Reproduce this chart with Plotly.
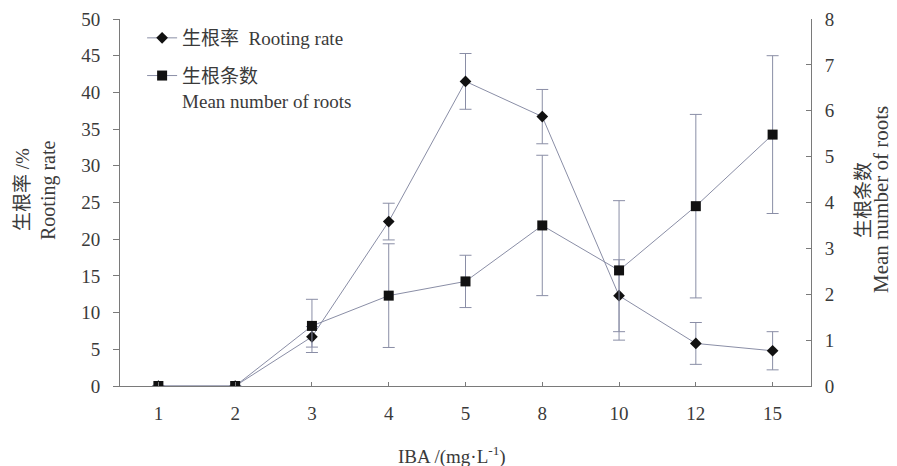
import plotly.graph_objects as go

categories = ["1", "2", "3", "4", "5", "8", "10", "12", "15"]
rooting_rate = [0, 0, 6.7, 22.4, 41.5, 36.7, 12.3, 5.8, 4.8]
rooting_rate_err = [0, 0, 1.4, 2.5, 3.8, 3.7, 4.9, 2.85, 2.6]
root_number = [0, 0, 1.31, 1.97, 2.28, 3.50, 2.52, 3.92, 5.48]
root_number_err = [0, 0, 0.58, 1.13, 0.57, 1.53, 1.52, 2.0, 1.72]

FONT = "Liberation Serif, Times New Roman, Noto Sans CJK SC, serif"
LINE = "#8a8ea6"
AX = "#7a7a7a"
TXT = "#3a3a3a"

fig = go.Figure()
fig.add_trace(go.Scatter(
    x=categories, y=rooting_rate, name="生根率  Rooting rate",
    mode="lines+markers", legendgroup="a",
    line=dict(color=LINE, width=1),
    marker=dict(symbol="diamond", size=9, color="#111"),
    error_y=dict(type="data", array=rooting_rate_err, color=LINE, thickness=1, width=6),
    yaxis="y",
))
fig.add_trace(go.Scatter(
    x=categories, y=root_number, name="生根条数<br>Mean number of roots",
    mode="lines+markers", legendgroup="b",
    line=dict(color=LINE, width=1),
    marker=dict(symbol="square", size=10, color="#111"),
    error_y=dict(type="data", array=root_number_err, color=LINE, thickness=1, width=6),
    yaxis="y2",
))

# page has an 8px body margin; plot area target in viewport: x 120..811, y 19..386
def px_x(p):
    return (p - 120) / 691.0

def px_y(p):
    return (386 - p) / 367.0

annotations = [
    dict(text="生根率 /%", x=px_x(22), y=px_y(190), textangle=-90,
         font=dict(size=19)),
    dict(text="Rooting rate", x=px_x(48), y=px_y(190), textangle=-90,
         font=dict(size=20)),
    dict(text="生根条数", x=px_x(864), y=px_y(200), textangle=-90,
         font=dict(size=19)),
    dict(text="Mean number of roots", x=px_x(881), y=px_y(200), textangle=-90,
         font=dict(size=21)),
    dict(text="IBA /(mg·L<sup>-1</sup>)", x=px_x(452), y=px_y(455),
         font=dict(size=19)),
]
for a in annotations:
    a.update(xref="paper", yref="paper", showarrow=False,
             xanchor="center", yanchor="middle")

fig.update_layout(
    width=889, height=458,
    margin=dict(l=112, r=86, t=11, b=80),
    paper_bgcolor="white", plot_bgcolor="white",
    font=dict(family=FONT, size=19, color=TXT),
    showlegend=True,
    legend=dict(x=0.032, y=1.0, xanchor="left", yanchor="top",
                bgcolor="rgba(0,0,0,0)", font=dict(size=19, color=TXT),
                traceorder="grouped", tracegroupgap=10, valign="top"),
    annotations=annotations,
    xaxis=dict(
        type="category", range=[-0.5, 8.5], automargin=False,
        showline=True, linecolor=AX, linewidth=1,
        ticks="inside", ticklen=4, tickcolor=AX,
        showgrid=False, zeroline=False, ticklabelstandoff=10,
        tickfont=dict(size=19),
    ),
    yaxis=dict(
        range=[0, 50], dtick=5, automargin=False,
        showline=True, linecolor=AX, linewidth=1,
        ticks="outside", ticklen=6, tickcolor=AX,
        showgrid=False, zeroline=False, ticklabelstandoff=9,
        tickfont=dict(size=19),
    ),
    yaxis2=dict(
        range=[0, 8], dtick=1, overlaying="y", side="right", automargin=False,
        showline=True, linecolor=AX, linewidth=1,
        ticks="inside", ticklen=5, tickcolor=AX,
        showgrid=False, zeroline=False, ticklabelstandoff=9,
        tickfont=dict(size=19),
    ),
)

fig.write_html("out.html")
